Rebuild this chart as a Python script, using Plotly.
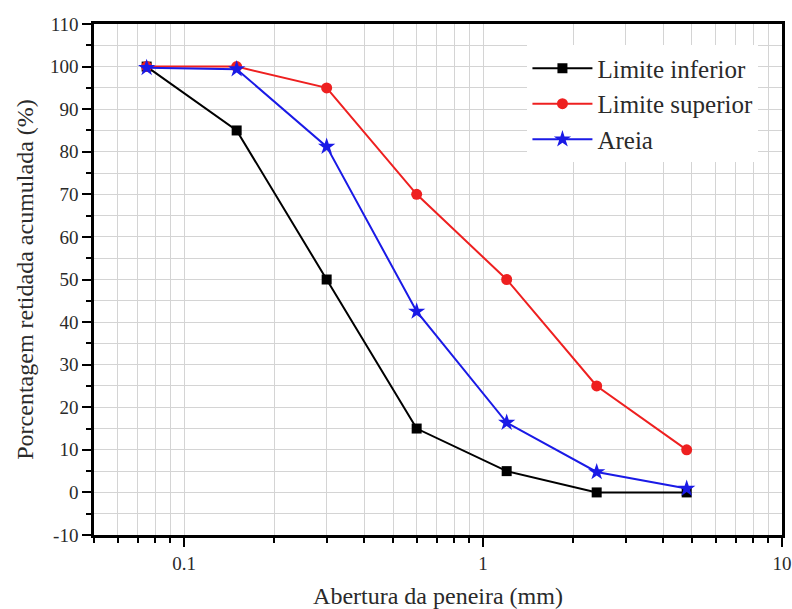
import plotly.graph_objects as go

abertura = [0.075, 0.15, 0.3, 0.6, 1.2, 2.4, 4.8]
limite_inferior = [100, 85, 50, 15, 5, 0, 0]
limite_superior = [100, 100, 95, 70, 50, 25, 10]
areia = [99.7, 99.4, 81.2, 42.5, 16.4, 4.8, 0.9]

x_ticks = [0.1, 1, 10]
x_tick_text = ["0.1", "1", "10"]
x_minor = [0.05, 0.06, 0.07, 0.08, 0.09,
           0.2, 0.3, 0.4, 0.5, 0.6, 0.7, 0.8, 0.9,
           2, 3, 4, 5, 6, 7, 8, 9]
y_ticks = list(range(-10, 111, 10))
y_tick_text = [str(v) for v in y_ticks]

font_family = "Liberation Serif"
text_color = "#2a2a2a"
grid_color = "#d4d4d4"

fig = go.Figure()
fig.add_trace(go.Scatter(
    x=abertura, y=limite_inferior, name="Limite inferior", mode="lines+markers",
    line=dict(color="#000000", width=2),
    marker=dict(symbol="square", size=10, color="#000000")))
fig.add_trace(go.Scatter(
    x=abertura, y=limite_superior, name="Limite superior", mode="lines+markers",
    line=dict(color="#ee2020", width=2),
    marker=dict(symbol="circle", size=11, color="#ee2020")))
fig.add_trace(go.Scatter(
    x=abertura, y=areia, name="Areia", mode="lines+markers",
    line=dict(color="#1a1ae6", width=2),
    marker=dict(symbol="star", size=13, color="#1a1ae6")))

fig.update_layout(
    width=792, height=609,
    margin=dict(l=94, r=10, t=24, b=74),
    paper_bgcolor="white", plot_bgcolor="white",
    font=dict(family=font_family, color=text_color, size=19),
    showlegend=True,
    legend=dict(x=0.63, y=0.958, xanchor="left", yanchor="top",
                font=dict(family=font_family, size=25, color=text_color), itemwidth=60,
                bgcolor="rgba(255,255,255,1)", tracegroupgap=0),
)
fig.update_xaxes(
    type="log", range=[-1.30103, 1.0], automargin=False,
    tickvals=x_ticks, ticktext=x_tick_text,
    ticks="outside", ticklen=9, tickwidth=2, tickcolor="#000",
    showline=True, linecolor="#000", linewidth=2.5, mirror=True,
    showgrid=True, gridcolor=grid_color, gridwidth=1,
    minor=dict(tickvals=x_minor, ticks="outside", ticklen=5, tickwidth=2,
               tickcolor="#000", showgrid=True, gridcolor=grid_color, gridwidth=1),
    zeroline=False,
    tickfont=dict(family=font_family, size=19),
    title=dict(text="Abertura da peneira (mm)",
               font=dict(family=font_family, size=24), standoff=15),
)
fig.update_yaxes(
    range=[-10, 110], automargin=False,
    tickvals=y_ticks, ticktext=y_tick_text,
    ticks="outside", ticklen=9, tickwidth=2, tickcolor="#000",
    showline=True, linecolor="#000", linewidth=2.5, mirror=True,
    showgrid=True, gridcolor=grid_color, gridwidth=1,
    minor=dict(dtick=5, ticks="outside", ticklen=5, tickwidth=2,
               tickcolor="#000", showgrid=True, gridcolor=grid_color, gridwidth=1),
    zeroline=False,
    tickfont=dict(family=font_family, size=19),
    title=dict(text="Porcentagem retidada acumulada (%)",
               font=dict(family=font_family, size=24), standoff=10),
)

fig.write_html("out.html", config={"displayModeBar": False},
               post_script="document.body.style.margin='0px';")
